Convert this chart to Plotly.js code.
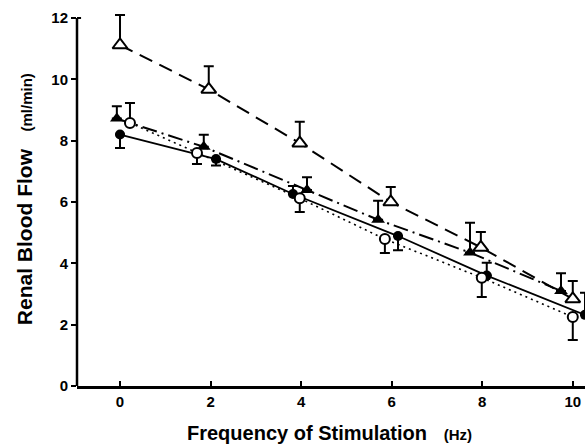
<!DOCTYPE html>
<html>
<head>
<meta charset="utf-8">
<script src="https://cdn.plot.ly/plotly-3.0.1.min.js"></script>
<style>html,body{margin:0;padding:0;background:#fff;}#chart{width:585px;height:446px;}</style>
</head>
<body>
<div id="chart"></div>
<script>
// Open triangles (dashed)
const openTriX = [0, 1.96, 3.97, 5.98, 7.97, 10.0];
const openTriY = [11.12, 9.67, 7.92, 6.0, 4.52, 2.84];
const openTriErrUp = [0.98, 0.76, 0.7, 0.49, 0.5, 0.58];

// Filled triangles (dash-dot)
const fillTriX = [-0.07, 1.85, 4.13, 5.7, 7.73, 9.74];
const fillTriY = [8.72, 7.8, 6.39, 5.42, 4.35, 3.1];
const fillTriErrUp = [0.4, 0.39, 0.42, 0.62, 0.97, 0.58];

// Filled circles (solid)
const fillCirX = [0, 2.12, 3.82, 6.14, 8.1, 10.27];
const fillCirY = [8.2, 7.4, 6.26, 4.89, 3.6, 2.32];
const fillCirErrUp = [0, 0, 0.26, 0, 0.42, 0.72];
const fillCirErrDown = [0.44, 0.21, 0, 0.46, 0, 0];

// Open circles (dotted)
const openCirX = [0.22, 1.7, 3.97, 5.85, 7.99, 10.0];
const openCirY = [8.58, 7.6, 6.12, 4.79, 3.53, 2.25];
const openCirErrUp = [0.65, 0, 0, 0, 0, 0];
const openCirErrDown = [0, 0.36, 0.45, 0.45, 0.63, 0.75];

const xTicks = [0, 2, 4, 6, 8, 10];
const yTicks = [0, 2, 4, 6, 8, 10, 12];
const yMax = 12;

const xTitle = "<b>Frequency of Stimulation</b>   <b><span style='font-size:15px'>(Hz)</span></b>";
const yTitle = "<b>Renal Blood Flow</b>   <b><span style='font-size:15px'>(ml/min)</span></b>";

const zeros = n => new Array(n).fill(0);

function errTrace(x, y, up, down) {
  return {
    x: x, y: y, mode: 'markers', type: 'scatter',
    marker: {size: 2, opacity: 0},
    error_y: {type: 'data', symmetric: false, array: up, arrayminus: down, color: '#000', thickness: 2, width: 5}
  };
}

const traces = [
  errTrace(openTriX, openTriY, openTriErrUp, zeros(6)),
  errTrace(fillTriX, fillTriY, fillTriErrUp, zeros(6)),
  errTrace(fillCirX, fillCirY, fillCirErrUp, fillCirErrDown),
  errTrace(openCirX, openCirY, openCirErrUp, openCirErrDown),
  {
    x: openTriX, y: openTriY, mode: 'lines+markers', type: 'scatter',
    line: {color: '#000', width: 2, dash: '14px,8px'},
    marker: {symbol: 'triangle-up', size: 13, color: '#fff', line: {width: 2, color: '#000'}}
  },
  {
    x: fillTriX, y: fillTriY, mode: 'lines+markers', type: 'scatter',
    line: {color: '#000', width: 2, dash: '15px,5px,2px,5px'},
    marker: {symbol: 'triangle-up', size: 12, color: '#000'}
  },
  {
    x: fillCirX, y: fillCirY, mode: 'lines+markers', type: 'scatter',
    line: {color: '#000', width: 1.8},
    marker: {symbol: 'circle', size: 10, color: '#000'}
  },
  {
    x: openCirX, y: openCirY, mode: 'lines+markers', type: 'scatter',
    line: {color: '#000', width: 1.6, dash: '2px,4px'},
    marker: {symbol: 'circle', size: 10, color: '#fff', line: {width: 2, color: '#000'}}
  }
];

const layout = {
  width: 585, height: 446,
  margin: {l: 77, r: 0, t: 12, b: 60},
  paper_bgcolor: '#fff', plot_bgcolor: '#fff',
  showlegend: false,
  font: {family: 'Liberation Sans, Arial, sans-serif', color: '#000'},
  xaxis: {
    range: [-0.95, 10.27], tickvals: xTicks, ticktext: xTicks.map(v => '<b>' + v + '</b>'),
    ticks: 'inside', ticklen: 5, tickwidth: 2, tickcolor: '#000',
    showline: true, linecolor: '#000', linewidth: 2.5, showgrid: false, zeroline: false,
    tickfont: {size: 15, color: '#000'}
  },
  yaxis: {
    range: [0, 12.196], tickvals: yTicks, ticktext: yTicks.map(v => '<b>' + v + '</b>'),
    ticks: 'outside', ticklen: 5, tickwidth: 2, tickcolor: '#000',
    showline: false, showgrid: false, zeroline: false,
    tickfont: {size: 15, color: '#000'}
  },
  shapes: [
    {type: 'line', xref: 'paper', yref: 'y', x0: 0, x1: 0, y0: 0, y1: yMax, line: {color: '#000', width: 2.5}},
    {type: 'line', xref: 'paper', yref: 'y', x0: 0, x1: 0.008, y0: yMax, y1: yMax, line: {color: '#000', width: 2}}
  ],
  annotations: [
    {text: xTitle, xref: 'paper', yref: 'paper', x: 0.498, y: -0.126, xanchor: 'center', yanchor: 'middle',
     showarrow: false, font: {size: 20, color: '#000'}},
    {text: yTitle, xref: 'paper', yref: 'paper', x: -0.104, y: 0.50, xanchor: 'center', yanchor: 'middle',
     textangle: -90, showarrow: false, font: {size: 21, color: '#000'}}
  ]
};

Plotly.newPlot('chart', traces, layout, {displayModeBar: false, staticPlot: true});
</script>
</body>
</html>
